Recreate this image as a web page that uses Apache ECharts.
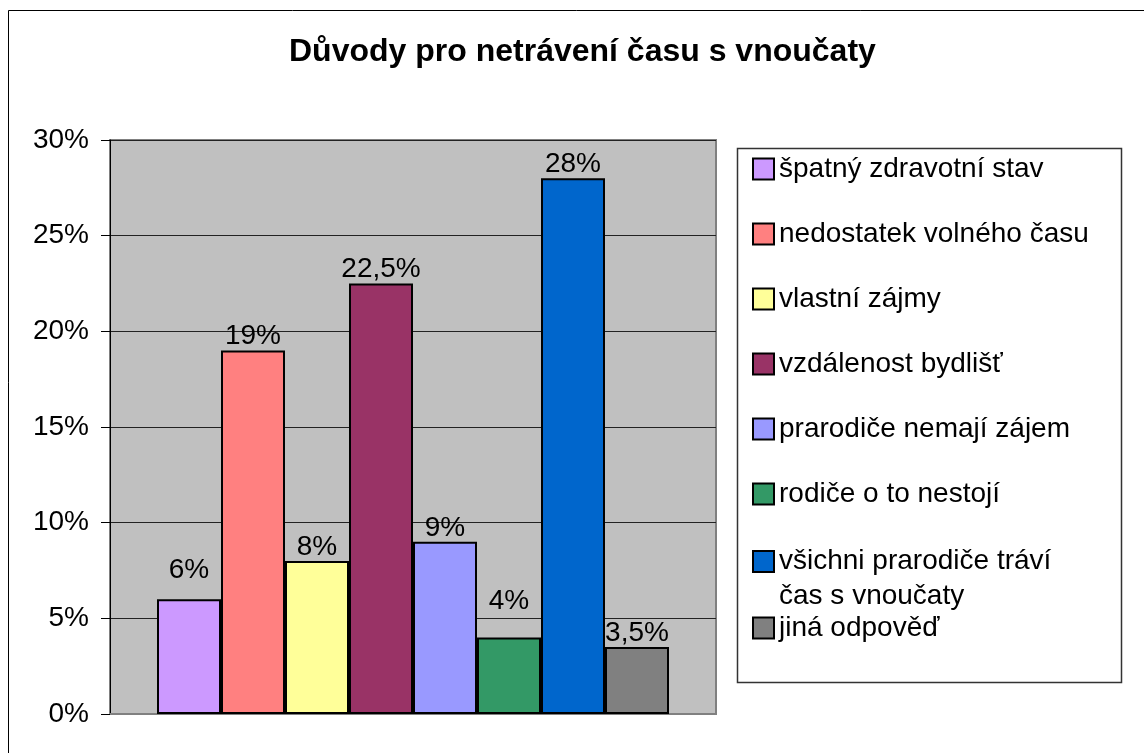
<!DOCTYPE html>
<html>
<head>
<meta charset="utf-8">
<script src="https://cdn.jsdelivr.net/npm/echarts@6/dist/echarts.min.js"></script>
<style>
  html, body { margin: 0; padding: 0; background: #fff; }
  #chart { width: 1144px; height: 753px; }
</style>
</head>
<body>
<div id="chart"></div>
<script>
// data
const reasons = [
  'špatný zdravotní stav',
  'nedostatek volného času',
  'vlastní zájmy',
  'vzdálenost bydlišť',
  'prarodiče nemají zájem',
  'rodiče o to nestojí',
  'všichni prarodiče tráví\nčas s vnoučaty',
  'jiná odpověď'
]
const shares = [6, 19, 8, 22.5, 9, 4, 28, 3.5]
const colors = ['#CC99FF', '#FF8080', '#FFFF99', '#993366', '#9999FF', '#339966', '#0066CC', '#808080']
const yTicks = [0, 5, 10, 15, 20, 25, 30]

// a couple of labels sit higher in the original
const labelNudge = { 0: -15, 5: -22 }

const font = "'Liberation Sans', Arial, sans-serif"
const chart = echarts.init(document.getElementById('chart'))

const series = reasons.map((name, i) => ({
  name: name,
  type: 'bar',
  barWidth: 64,
  barGap: '0%',
  data: [shares[i]],
  itemStyle: { color: colors[i], borderColor: '#000', borderWidth: 2 },
  label: {
    show: true,
    position: 'top',
    distance: 0,
    offset: [0, labelNudge[i] || 0],
    fontSize: 28,
    fontFamily: font,
    color: '#000',
    formatter: p => String(p.value).replace('.', ',') + '%'
  }
}))

const legendBase = {
  orient: 'vertical',
  left: 752,
  padding: 0,
  icon: 'rect',
  itemWidth: 21,
  itemHeight: 21,
  itemGap: 35,
  selectedMode: false,
  textStyle: { fontSize: 28, fontFamily: font, color: '#000', lineHeight: 30 }
}

chart.setOption({
  animation: false,
  backgroundColor: '#fff',
  title: {
    text: 'Důvody pro netrávení času s vnoučaty',
    left: 289,
    top: 36,
    padding: 0,
    textStyle: { fontSize: 32, fontWeight: 'bold', fontFamily: font, color: '#000' }
  },
  graphic: [
    // outer chart frame
    { type: 'rect', shape: { x: 8.5, y: 10.5, width: 1200, height: 800 }, style: { fill: 'none', stroke: '#000', lineWidth: 1 }, silent: true },
    // legend box
    { type: 'rect', shape: { x: 737.5, y: 148.5, width: 384, height: 534 }, style: { fill: 'none', stroke: '#333', lineWidth: 1.5 }, silent: true }
  ],
  legend: [
    Object.assign({}, legendBase, { top: 154, data: reasons.slice(0, 6) }),
    // two-line entry: an empty first line keeps the swatch level with "všichni ..."
    Object.assign({}, legendBase, {
      top: 509,
      data: [reasons[6]],
      formatter: n => '\n' + n,
      textStyle: Object.assign({}, legendBase.textStyle, { lineHeight: 35 })
    }),
    Object.assign({}, legendBase, { top: 613, data: [reasons[7]] })
  ],
  grid: {
    left: 110,
    right: 428,
    top: 140,
    bottom: 39,
    show: true,
    backgroundColor: '#C0C0C0',
    borderColor: '#808080',
    borderWidth: 2
  },
  xAxis: {
    type: 'category',
    data: [''],
    axisLine: { lineStyle: { color: '#808080', width: 2 } },
    axisTick: { show: false },
    axisLabel: { show: false }
  },
  yAxis: {
    type: 'value',
    min: yTicks[0],
    max: yTicks[yTicks.length - 1],
    interval: 5,
    axisLine: { show: true, lineStyle: { color: '#000', width: 1 } },
    axisTick: { show: true, length: 9, lineStyle: { color: '#000' } },
    axisLabel: { margin: 21, fontSize: 28, fontFamily: font, color: '#000', formatter: '{value}%' },
    splitLine: { lineStyle: { color: '#222', width: 1 } }
  },
  series: series
})
</script>
</body>
</html>
